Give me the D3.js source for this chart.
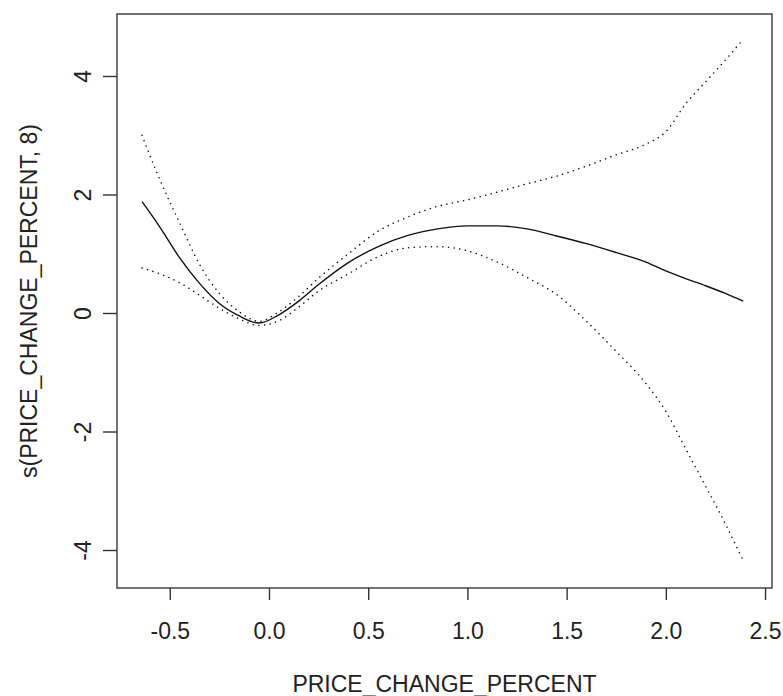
<!DOCTYPE html>
<html>
<head>
<meta charset="utf-8">
<script src="https://cdn.jsdelivr.net/npm/d3@7"></script>
<style>
  body { margin: 0; background: #fff; }
  text { font-family: "Liberation Sans", Arial, sans-serif; fill: #222; }
</style>
</head>
<body>
<div id="chart"></div>
<script>
// smooth term and its +/- 2 s.e. band
const xGrid = [-0.64, -0.55, -0.45, -0.35, -0.25, -0.15, -0.05, 0.05, 0.15, 0.25,
  0.4, 0.55, 0.7, 0.85, 1.0, 1.15, 1.3, 1.45, 1.6, 1.75, 1.9, 2.0, 2.1, 2.2, 2.3, 2.39];
const fitY = [1.88, 1.45, 0.93, 0.50, 0.16, -0.05, -0.17, -0.03, 0.20, 0.48,
  0.85, 1.12, 1.31, 1.42, 1.47, 1.47, 1.42, 1.30, 1.17, 1.02, 0.86, 0.71, 0.58, 0.46, 0.33, 0.20];
const upperY = [3.0, 2.25, 1.52, 0.82, 0.33, 0.02, -0.14, 0.02, 0.28, 0.59,
  1.0, 1.38, 1.62, 1.80, 1.91, 2.04, 2.18, 2.31, 2.48, 2.67, 2.85, 3.06, 3.53, 3.90, 4.27, 4.62];
const lowerY = [0.76, 0.66, 0.51, 0.30, 0.08, -0.10, -0.21, -0.13, 0.10, 0.37,
  0.66, 0.95, 1.10, 1.12, 1.05, 0.86, 0.60, 0.31, -0.14, -0.65, -1.19, -1.66, -2.29, -2.92, -3.56, -4.18];

const xTicks = [-0.5, 0.0, 0.5, 1.0, 1.5, 2.0, 2.5];
const yTicks = [-4, -2, 0, 2, 4];
const xLabel = "PRICE_CHANGE_PERCENT";
const yLabel = "s(PRICE_CHANGE_PERCENT, 8)";

const W = 783, H = 696;
const plot = { left: 117, top: 14, right: 772, bottom: 588 };

const svg = d3.select("#chart").append("svg")
  .attr("width", W)
  .attr("height", H);

svg.append("rect").attr("width", W).attr("height", H).attr("fill", "#fff");

const x = d3.scaleLinear().domain([-0.766, 2.535]).range([plot.left, plot.right]);
const y = d3.scaleLinear().domain([-4.641, 5.046]).range([plot.bottom, plot.top]);

const line = (ys) => d3.line()
  .x((d, i) => x(xGrid[i]))
  .y((d) => y(d))
  .curve(d3.curveMonotoneX)(ys);

// confidence band, dotted
[upperY, lowerY].forEach((ys) => {
  svg.append("path")
    .attr("d", line(ys))
    .attr("fill", "none")
    .attr("stroke", "#111")
    .attr("stroke-width", 1.5)
    .attr("stroke-linecap", "round")
    .attr("stroke-dasharray", "0.1,5.6");
});

svg.append("path")
  .attr("d", line(fitY))
  .attr("fill", "none")
  .attr("stroke", "#111")
  .attr("stroke-width", 1.4);

// box
svg.append("rect")
  .attr("x", plot.left)
  .attr("y", plot.top)
  .attr("width", plot.right - plot.left)
  .attr("height", plot.bottom - plot.top)
  .attr("fill", "none")
  .attr("stroke", "#444")
  .attr("stroke-width", 1.5);

// x axis (plain hyphen minus, as in the original)
svg.append("g")
  .attr("transform", `translate(0,${plot.bottom})`)
  .call(d3.axisBottom(x).tickValues(xTicks).tickSize(12).tickFormat((d) => d.toFixed(1)))
  .call((g) => g.select(".domain").remove())
  .call((g) => g.selectAll("line").attr("stroke", "#333").attr("stroke-width", 1.4))
  .call((g) => g.selectAll("text")
    .attr("font-size", 23)
    .attr("font-family", "Liberation Sans, Arial, sans-serif")
    .attr("fill", "#222")
    .attr("dy", null)
    .attr("y", 51));

// y axis, labels rotated like R's default las=0
svg.append("g")
  .attr("transform", `translate(${plot.left},0)`)
  .call(d3.axisLeft(y).tickValues(yTicks).tickSize(14).tickFormat((d) => String(d)))
  .call((g) => g.select(".domain").remove())
  .call((g) => g.selectAll("line").attr("stroke", "#333").attr("stroke-width", 1.4))
  .call((g) => g.selectAll("text")
    .attr("font-size", 23)
    .attr("font-family", "Liberation Sans, Arial, sans-serif")
    .attr("fill", "#222")
    .attr("x", null)
    .attr("dy", null)
    .attr("text-anchor", "middle")
    .attr("transform", `translate(${91 - plot.left},0) rotate(-90)`));

svg.append("text")
  .attr("x", (plot.left + plot.right) / 2)
  .attr("y", 692)
  .attr("text-anchor", "middle")
  .attr("font-size", 23)
  .text(xLabel);

svg.append("text")
  .attr("transform", `translate(37,${(plot.top + plot.bottom) / 2}) rotate(-90)`)
  .attr("text-anchor", "middle")
  .attr("font-size", 23)
  .text(yLabel);
</script>
</body>
</html>
